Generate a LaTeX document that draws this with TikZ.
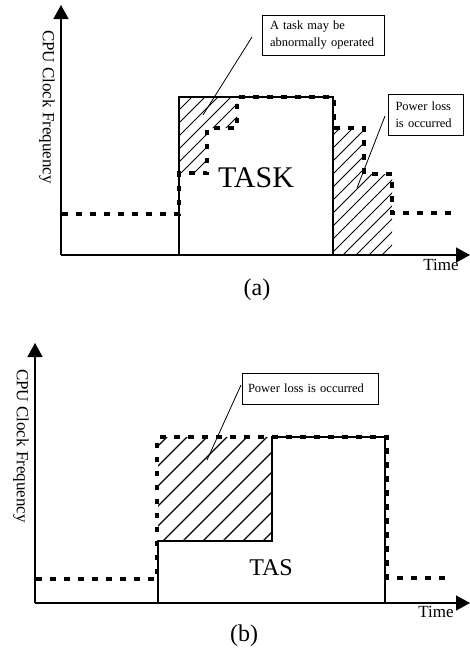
\documentclass[tikz,border=0pt]{standalone}
\usepackage{fontspec}
\setmainfont{Liberation Serif}
\usetikzlibrary{arrows.meta}
\begin{document}
\begin{tikzpicture}[x=1pt,y=-1pt,
  axis/.style={line width=1.4pt,-{Triangle[length=14pt,width=15pt]}},
  freq/.style={line width=3.6pt,dash pattern=on 5.5pt off 8.5pt},
  taskbox/.style={line width=1.1pt},
  hatchline/.style={line width=0.8pt},
  leader/.style={line width=0.8pt},
  callout/.style={draw,line width=1pt,inner ysep=0pt,font=\fontsize{12.5}{17}\selectfont,align=left},
  axlabel/.style={font=\fontsize{17}{20}\selectfont},
  tasklabel/.style={font=\fontsize{30}{34}\selectfont},
  caption/.style={font=\fontsize{24}{28}\selectfont},
]
\useasboundingbox (0,0) rectangle (470,657);

% ---------------- (a) dynamic frequency scaling with a task ----------------
\coordinate (oa) at (61,255);
\coordinate (xa) at (470,255);
\coordinate (ya) at (61,5);
\draw[axis] (oa) -- (xa);
\draw[axis] (oa) -- (ya);
\node[axlabel,rotate=-90] (ylaba) at (47,107) {CPU Clock Frequency};
\node[axlabel] (tlaba) at (441,265) {Time};

% hatched areas
\begin{scope}
  \clip (179,97) -- (237,97) -- (237,128) -- (207,128) -- (207,173) -- (179,173) -- cycle;
  \foreach \k in {-2,...,12}
    \draw[hatchline] ({289+13*\k-300},300) -- ({289+13*\k},0);
\end{scope}
\begin{scope}
  \clip (333,128) -- (364,128) -- (364,174) -- (392,174) -- (392,255) -- (333,255) -- cycle;
  \foreach \k in {-1,...,15}
    \draw[hatchline] ({468+13*\k-300},300) -- ({468+13*\k},0);
\end{scope}

% task block
\draw[taskbox] (179,255) -- (179,97) -- (333,97) -- (333,255);
\node[tasklabel] (taska) at (256,178) {TASK};

% clock frequency
\draw[freq] (62,214) -- (179,214) -- (179,173) -- (207,173) -- (207,128)
  -- (237,128) -- (237,97) -- (334,97) -- (334,128) -- (364,128) -- (364,174)
  -- (392,174) -- (392,213) -- (458,213);

% callouts
\node[callout,minimum width=122pt,minimum height=40pt,text width=106pt] (ca1) at (323,35)
  {A task may be\\abnormally operated};
\coordinate (la1) at (252,37);
\coordinate (pa1) at (203,115);
\draw[leader] (la1) -- (pa1);

\node[callout,minimum width=75pt,minimum height=41pt,text width=60pt] (ca2) at (425.5,114.5)
  {Power loss\\is occurred};
\coordinate (la2) at (385,116);
\coordinate (pa2) at (357,188);
\draw[leader] (la2) -- (pa2);

\node[caption] (capa) at (257,290) {(a)};

% ---------------- (b) with task-aware scaling ----------------
\coordinate (ob) at (35,603);
\coordinate (xb) at (470,603);
\coordinate (yb) at (35,343);
\draw[axis] (ob) -- (xb);
\draw[axis] (ob) -- (yb);
\node[axlabel,rotate=-90] (ylabb) at (21,446) {CPU Clock Frequency};
\node[axlabel] (tlabb) at (436,612) {Time};

\begin{scope}
  \clip (158,437) rectangle (272,541);
  \foreach \k in {-7,...,7}
    \draw[hatchline,line width=1.1pt] ({704+20*\k-700},700) -- ({704+20*\k-400},400);
\end{scope}

\draw[taskbox] (158,603) -- (158,541) -- (272,541) -- (272,437) -- (385,437) -- (385,603);
\node[font=\fontsize{24}{28}\selectfont] (taskb) at (271,568) {TAS};

\draw[freq] (36,579) -- (157,579) -- (157,437) -- (387,437) -- (387,578) -- (452,578);

\node[callout,minimum width=136pt,minimum height=31pt,text width=124pt] (cb) at (310,388.5)
  {Power loss is occurred};
\coordinate (lb) at (241,385);
\coordinate (pb) at (207,460);
\draw[leader] (lb) -- (pb);

\node[caption] (capb) at (244,636) {(b)};
\end{tikzpicture}
\end{document}
